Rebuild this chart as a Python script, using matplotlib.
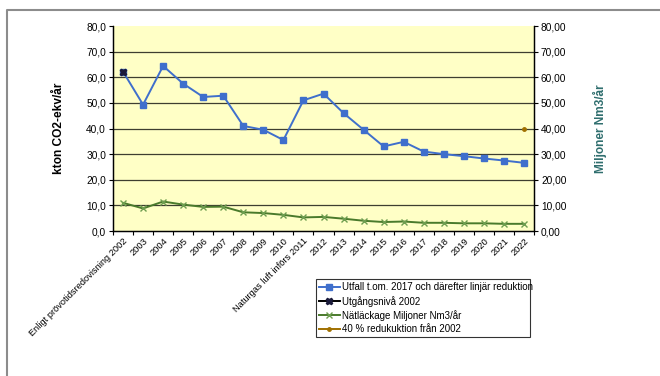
import matplotlib.pyplot as plt
from matplotlib.lines import Line2D
from matplotlib.ticker import FuncFormatter

plt.rcParams['font.family'] = ['Liberation Sans', 'DejaVu Sans']

# kategorier på x-axeln
kategorier = ['Enligt prövotidsredovisning 2002', '2003', '2004', '2005', '2006', '2007',
              '2008', '2009', '2010', 'Naturgas luft införs 2011', '2012', '2013', '2014',
              '2015', '2016', '2017', '2018', '2019', '2020', '2021', '2022']

# kton CO2-ekv/år
utfall = [62.2, 49.3, 64.4, 57.5, 52.3, 52.8, 41.0, 39.5, 35.5, 51.0, 53.6,
          46.0, 39.5, 33.0, 34.8, 31.0, 30.0, 29.2, 28.3, 27.5, 26.6]
utgangsniva = [62.2]
reduktion_40 = [39.7]

# Miljoner Nm3/år
natlackage = [11.0, 8.8, 11.5, 10.3, 9.4, 9.5, 7.3, 7.0, 6.3, 5.3, 5.5,
              4.8, 4.0, 3.5, 3.7, 3.2, 3.2, 3.0, 3.0, 2.8, 2.8]

blue = '#3F6FCC'
green = '#4A7A2C'
gold = '#A07000'
navy = '#1A1A3A'
teal = '#2F6E6E'

fig = plt.figure(figsize=(6.6, 3.76), dpi=100)
ax = fig.add_axes([113 / 660, 1 - 231 / 376, 421 / 660, 205 / 376])
ax.set_facecolor('#FFFFC6')

x = list(range(len(kategorier)))

# gridlinjer
for v in range(10, 80, 10):
    ax.axhline(v, color='#3E3E30', linewidth=0.9, zorder=1)

l1, = ax.plot(x, utfall, color=blue, linewidth=1.4, marker='s', markersize=4,
              label='Utfall t.om. 2017 och därefter linjär reduktion', zorder=3)
l2, = ax.plot([0], utgangsniva, color='black', marker='X', markersize=5,
              markerfacecolor=navy, markeredgecolor=navy, linewidth=1.4,
              label='Utgångsnivå 2002', zorder=4)
l4, = ax.plot([20], reduktion_40, color=gold, marker='o', markersize=2.5,
              linewidth=1.4, label='40 % redukuktion från 2002', zorder=4)

ax2 = ax.twinx()
l3, = ax2.plot(x, natlackage, color=green, linewidth=1.4, marker='x', markersize=4.5,
               markeredgecolor='#6E9E50', label='Nätläckage Miljoner Nm3/år', zorder=3)

for a in (ax, ax2):
    a.set_ylim(0, 80)
    a.set_yticks(range(0, 81, 10))
    a.set_xlim(-0.5, len(kategorier) - 0.5)
    a.tick_params(axis='y', labelsize=7.3, length=3, width=0.8, pad=2, colors='black')
    a.spines['top'].set_visible(False)
    for s in ('left', 'right', 'bottom'):
        a.spines[s].set_linewidth(0.9)

ax.yaxis.set_major_formatter(FuncFormatter(lambda v, p: f'{v:.1f}'.replace('.', ',')))
ax2.yaxis.set_major_formatter(FuncFormatter(lambda v, p: f'{v:.2f}'.replace('.', ',')))

# streck mellan kategorierna, etiketter i mitten
ax.set_xticks([i - 0.5 for i in range(len(kategorier) + 1)])
ax.set_xticklabels([])
ax.tick_params(axis='x', which='major', length=3, width=0.8)
ax.set_xticks(x, minor=True)
ax.set_xticklabels(kategorier, minor=True, rotation=45, ha='right',
                   rotation_mode='anchor', fontsize=6.7)
ax.tick_params(axis='x', which='minor', length=0, pad=4)

ax.set_ylabel('kton CO2-ekv/år', fontsize=8.6, fontweight='bold', labelpad=15)
ax2.set_ylabel('Miljoner Nm3/år', fontsize=8.6, fontweight='bold', color=teal, labelpad=19)

fig.legend(handles=[l1, l2, l3, l4], loc='lower left',
           bbox_to_anchor=(311 / 660, 1 - 342 / 376, 224 / 660, 63 / 376),
           mode='expand', fontsize=7, frameon=True, fancybox=False,
           edgecolor='black', handlelength=2.2, handletextpad=0.2,
           borderpad=0.3, labelspacing=0.35)
fig.legends[0].get_frame().set_linewidth(0.8)

# ram runt diagrammet
fig.add_artist(Line2D([7 / 660, 7 / 660, 1], [0, 1 - 10 / 376, 1 - 10 / 376],
                      transform=fig.transFigure, color='#8C8C8C', linewidth=1.5))

fig.savefig('out.png', dpi=100)
